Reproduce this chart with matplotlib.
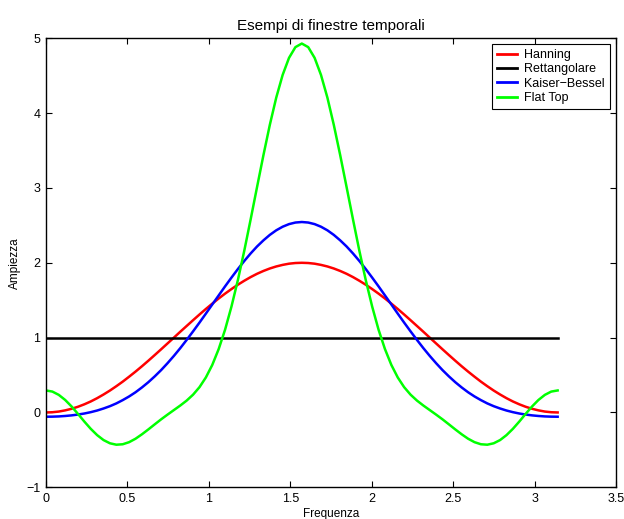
import matplotlib
matplotlib.use("Agg")
import matplotlib.pyplot as plt

plt.rcParams['font.family'] = ['Liberation Sans', 'DejaVu Sans']

# Frequency samples (0 .. pi)
freq = [0.0000, 0.0393, 0.0785, 0.1178, 0.1571, 0.1963, 0.2356, 0.2749, 0.3142, 0.3534,
        0.3927, 0.4320, 0.4712, 0.5105, 0.5498, 0.5890, 0.6283, 0.6676, 0.7069, 0.7461,
        0.7854, 0.8247, 0.8639, 0.9032, 0.9425, 0.9817, 1.0210, 1.0603, 1.0996, 1.1388,
        1.1781, 1.2174, 1.2566, 1.2959, 1.3352, 1.3744, 1.4137, 1.4530, 1.4923, 1.5315,
        1.5708, 1.6101, 1.6493, 1.6886, 1.7279, 1.7671, 1.8064, 1.8457, 1.8850, 1.9242,
        1.9635, 2.0028, 2.0420, 2.0813, 2.1206, 2.1598, 2.1991, 2.2384, 2.2777, 2.3169,
        2.3562, 2.3955, 2.4347, 2.4740, 2.5133, 2.5525, 2.5918, 2.6311, 2.6704, 2.7096,
        2.7489, 2.7882, 2.8274, 2.8667, 2.9060, 2.9452, 2.9845, 3.0238, 3.0631, 3.1023,
        3.1416]

hanning = [0.000, 0.003, 0.012, 0.028, 0.049, 0.076, 0.109, 0.147, 0.191, 0.240,
           0.293, 0.351, 0.412, 0.478, 0.546, 0.617, 0.691, 0.767, 0.844, 0.922,
           1.000, 1.079, 1.156, 1.233, 1.309, 1.383, 1.454, 1.523, 1.588, 1.649,
           1.707, 1.760, 1.809, 1.853, 1.891, 1.924, 1.951, 1.972, 1.988, 1.997,
           2.000, 1.997, 1.988, 1.972, 1.951, 1.924, 1.891, 1.853, 1.809, 1.760,
           1.707, 1.649, 1.588, 1.523, 1.454, 1.383, 1.309, 1.233, 1.156, 1.079,
           1.000, 0.922, 0.844, 0.767, 0.691, 0.617, 0.546, 0.478, 0.412, 0.351,
           0.293, 0.240, 0.191, 0.147, 0.109, 0.076, 0.049, 0.028, 0.012, 0.003,
           0.000]

rect_x = [0.0, 3.1416]
rettangolare = [1.0, 1.0]

kaiser_bessel = [-0.057, -0.056, -0.053, -0.047, -0.039, -0.028, -0.014, 0.004, 0.026, 0.053,
                 0.084, 0.121, 0.165, 0.214, 0.270, 0.334, 0.404, 0.482, 0.566, 0.658,
                 0.756, 0.860, 0.970, 1.084, 1.201, 1.321, 1.443, 1.564, 1.685, 1.802,
                 1.916, 2.024, 2.125, 2.218, 2.300, 2.373, 2.434, 2.482, 2.517, 2.538,
                 2.545, 2.538, 2.517, 2.482, 2.434, 2.373, 2.300, 2.218, 2.125, 2.024,
                 1.916, 1.802, 1.685, 1.564, 1.443, 1.321, 1.201, 1.084, 0.970, 0.860,
                 0.756, 0.658, 0.566, 0.482, 0.404, 0.334, 0.270, 0.214, 0.165, 0.121,
                 0.084, 0.053, 0.026, 0.004, -0.014, -0.028, -0.039, -0.047, -0.053, -0.056,
                 -0.057]

flat_top = [0.294, 0.279, 0.235, 0.167, 0.080, -0.019, -0.122, -0.219, -0.303, -0.369,
            -0.412, -0.431, -0.425, -0.397, -0.351, -0.292, -0.227, -0.159, -0.092, -0.029,
            0.032, 0.093, 0.159, 0.238, 0.338, 0.468, 0.635, 0.847, 1.106, 1.415,
            1.768, 2.160, 2.580, 3.012, 3.439, 3.844, 4.207, 4.510, 4.739, 4.882,
            4.930, 4.882, 4.739, 4.510, 4.207, 3.844, 3.439, 3.012, 2.580, 2.160,
            1.768, 1.415, 1.106, 0.847, 0.635, 0.468, 0.338, 0.238, 0.159, 0.093,
            0.032, -0.029, -0.092, -0.159, -0.227, -0.292, -0.351, -0.397, -0.425, -0.431,
            -0.412, -0.369, -0.303, -0.219, -0.122, -0.019, 0.080, 0.167, 0.235, 0.279,
            0.294]

xticks = [0, 0.5, 1, 1.5, 2, 2.5, 3, 3.5]
xticklabels = ['0', '0.5', '1', '1.5', '2', '2.5', '3', '3.5']
yticks = [-1, 0, 1, 2, 3, 4, 5]


fig = plt.figure(figsize=(6.24, 5.19), dpi=100)
ax = fig.add_axes([0.0737, 0.0611, 0.9135, 0.8651])

ax.plot(freq, hanning, color='#ff0000', linewidth=1.8, label='Hanning')
ax.plot(rect_x, rettangolare, color='black', linewidth=1.8, label='Rettangolare')
ax.plot(freq, kaiser_bessel, color='#0000ff', linewidth=1.8, label='Kaiser\u2212Bessel')
ax.plot(freq, flat_top, color='#00ff00', linewidth=1.8, label='Flat Top')

# MATLAB-like axes: box, ticks inside on all sides
ax.set_xlim(0, 3.5)
ax.set_ylim(-1, 5)
ax.set_xticks(xticks)
ax.set_xticklabels(xticklabels)
ax.set_yticks(yticks)
ax.tick_params(direction='in', top=True, right=True, length=4, width=0.8,
               labelsize=9, pad=4)
for sp in ax.spines.values():
    sp.set_linewidth(1.0)

ax.set_title('Esempi di finestre temporali', fontsize=11, pad=6)
ax.set_xlabel('Frequenza', fontsize=8.5, labelpad=2)
ax.set_ylabel('Ampiezza', fontsize=8.5, labelpad=4)

leg = ax.legend(loc='upper right', bbox_to_anchor=(0.9895, 0.987), fontsize=9,
                fancybox=False, edgecolor='black', framealpha=1,
                handlelength=1.6, handletextpad=0.6, labelspacing=0.18,
                borderpad=0.4, borderaxespad=0)
leg.get_frame().set_linewidth(0.8)
for line in leg.get_lines():
    line.set_linewidth(2.0)

fig.savefig('out.png', dpi=100)
